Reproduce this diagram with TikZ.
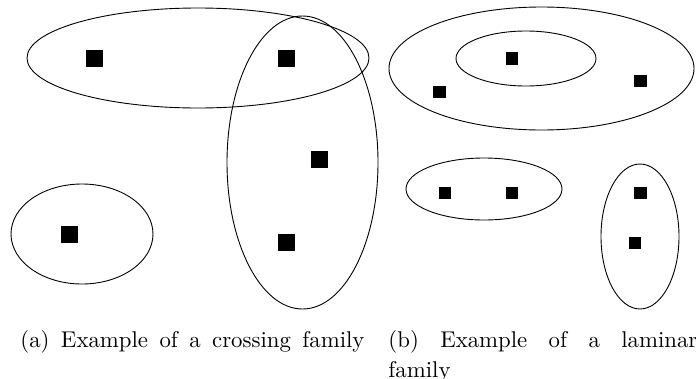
\documentclass[tikz,border=0pt]{standalone}
\usetikzlibrary{shapes.geometric}
\begin{document}
\begin{tikzpicture}[x=1pt,y=-1pt,
  setline/.style={draw=black,line width=0.9pt,ellipse,inner sep=0pt,fill=none},
  bigsq/.style={fill=black,inner sep=0pt,minimum size=17pt},
  smallsq/.style={fill=black,inner sep=0pt,minimum size=12.5pt},
  captext/.style={inner sep=0pt,anchor=north west,align=left,scale=2.28,font=\fontsize{10}{13.2}\selectfont}]
\useasboundingbox (0,0) rectangle (696,378);
% (a) crossing family
\node[setline,minimum width=342pt,minimum height=100pt] (A1) at (198,58) {};
\node[setline,minimum width=151pt,minimum height=293pt] (A2) at (302.5,162.5) {};
\node[setline,minimum width=142pt,minimum height=100pt] (A3) at (82,234) {};
\node[bigsq] (a1) at (94.5,58.5) {};
\node[bigsq] (a2) at (286,58.5) {};
\node[bigsq] (a3) at (319.5,159) {};
\node[bigsq] (a4) at (286,242) {};
\node[bigsq] (a5) at (69,234) {};
% (b) laminar family
\node[setline,minimum width=305pt,minimum height=123pt] (B1) at (541.5,68.5) {};
\node[setline,minimum width=140pt,minimum height=55pt] (B2) at (526,58.5) {};
\node[setline,minimum width=156pt,minimum height=62pt] (B3) at (484,189) {};
\node[setline,minimum width=78pt,minimum height=145pt] (B4) at (640,236.5) {};
\node[smallsq] (b1) at (512,58.5) {};
\node[smallsq] (b2) at (439.5,92) {};
\node[smallsq] (b3) at (640.5,81) {};
\node[smallsq] (b4) at (445,193) {};
\node[smallsq] (b5) at (512,193) {};
\node[smallsq] (b6) at (640.5,193) {};
\node[smallsq] (b7) at (635,243) {};
% captions
\node[captext] (capa) at (20,330)
  {\makebox[150.9pt][s]{(a) Example of a crossing family}};
\node[captext] (capb) at (388,330)
  {\makebox[135.5pt][s]{(b) Example of a laminar}\\family};
\end{tikzpicture}
\end{document}
